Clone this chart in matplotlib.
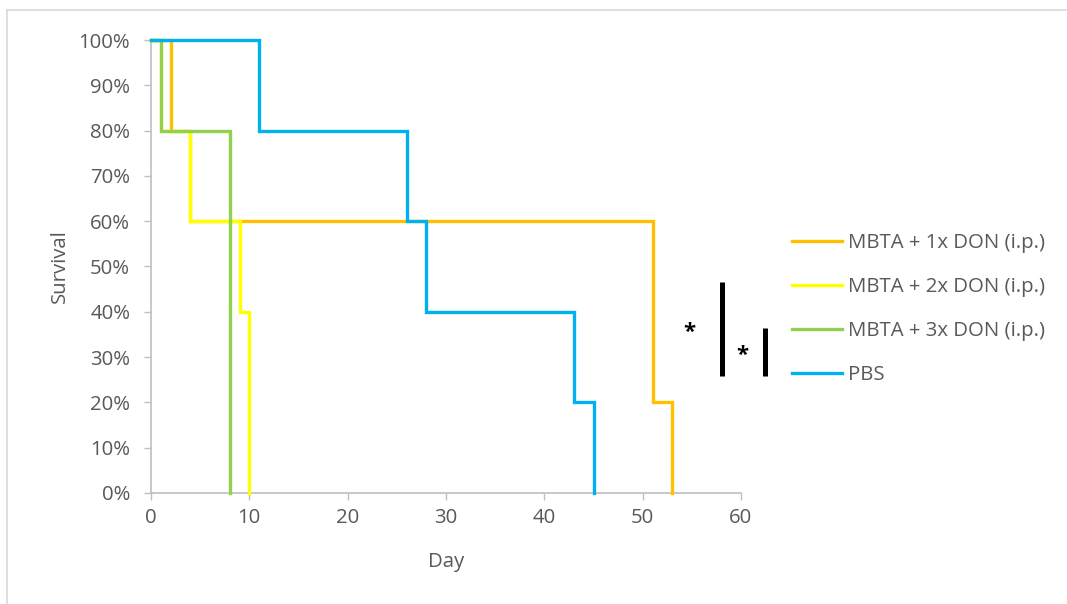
import matplotlib
matplotlib.use("Agg")
import matplotlib.pyplot as plt
from matplotlib.lines import Line2D
from matplotlib.ticker import PercentFormatter, MultipleLocator

# Survival data (day of each event, fraction surviving from that day on)
labels = ["MBTA + 1x DON (i.p.)", "MBTA + 2x DON (i.p.)", "MBTA + 3x DON (i.p.)", "PBS"]
colors = ["#FFC000", "#FFFF00", "#92D050", "#00B0F0"]

don1_days = [0, 2, 4, 51, 53]
don1_surv = [1.0, 0.8, 0.6, 0.2, 0.0]

don2_days = [0, 1, 4, 9, 10]
don2_surv = [1.0, 0.8, 0.6, 0.4, 0.0]

don3_days = [0, 1, 8]
don3_surv = [1.0, 0.8, 0.0]

pbs_days = [0, 11, 26, 28, 43, 45]
pbs_surv = [1.0, 0.8, 0.6, 0.4, 0.2, 0.0]

x_ticks = [0, 10, 20, 30, 40, 50, 60]

plt.rcParams["font.family"] = ["Open Sans", "DejaVu Sans"]
TXT = "#595959"
AX = "#BFBFBF"
FS = 14.7

W, H = 1067, 604
fig = plt.figure(figsize=(W / 100, H / 100), dpi=100)
ax = fig.add_axes([151 / W, (H - 493) / H, 590 / W, 453 / H])

series = [(don1_days, don1_surv), (don2_days, don2_surv),
          (don3_days, don3_surv), (pbs_days, pbs_surv)]
for (d, s), c, lab in zip(series, colors, labels):
    ax.plot(d, s, drawstyle="steps-post", color=c, lw=2.4, label=lab,
            solid_joinstyle="miter", clip_on=False, zorder=3)

ax.set_xlim(0, 60)
ax.set_ylim(0, 1)
ax.set_xticks(x_ticks)
ax.yaxis.set_major_locator(MultipleLocator(0.1))
ax.yaxis.set_major_formatter(PercentFormatter(1.0, decimals=0))

for side in ("top", "right"):
    ax.spines[side].set_visible(False)
for side in ("left", "bottom"):
    ax.spines[side].set_color(AX)
    ax.spines[side].set_linewidth(1.2)

ax.tick_params(axis="y", direction="out", length=5, width=1, color=AX,
               labelcolor=TXT, labelsize=FS, pad=10)
ax.tick_params(axis="x", direction="out", length=5, width=1, color=AX,
               labelcolor=TXT, labelsize=FS, pad=6)

ax.set_xlabel("Day", color=TXT, fontsize=FS)
ax.set_ylabel("Survival", color=TXT, fontsize=FS)
ax.xaxis.set_label_coords(0.5, -0.13)
ax.yaxis.set_label_coords(-0.137, 0.5)

# Significance markers
ax.plot([58.07, 58.07], [0.258, 0.466], color="black", lw=3.6,
        solid_capstyle="butt", clip_on=False)
ax.plot([62.44, 62.44], [0.258, 0.364], color="black", lw=3.6,
        solid_capstyle="butt", clip_on=False)
ax.text(54.8, 0.355, "*", ha="center", va="center", fontsize=16,
        fontweight="bold", color="black", clip_on=False)
ax.text(60.1, 0.303, "*", ha="center", va="center", fontsize=16,
        fontweight="bold", color="black", clip_on=False)

leg = ax.legend(loc="center left", bbox_to_anchor=(792 / W, (H - 309) / H),
                bbox_transform=fig.transFigure, frameon=False, fontsize=FS,
                handlelength=2.45, handletextpad=0.3, labelspacing=1.17,
                borderpad=0, borderaxespad=0)
for t in leg.get_texts():
    t.set_color(TXT)

# Chart area border
fig.add_artist(Line2D([7 / W, 1], [1 - 10 / H, 1 - 10 / H],
                      transform=fig.transFigure, color="#D9D9D9", lw=1.2))
fig.add_artist(Line2D([7 / W, 7 / W], [0, 1 - 10 / H],
                      transform=fig.transFigure, color="#D9D9D9", lw=1.2))

fig.savefig("out.png", dpi=100)
